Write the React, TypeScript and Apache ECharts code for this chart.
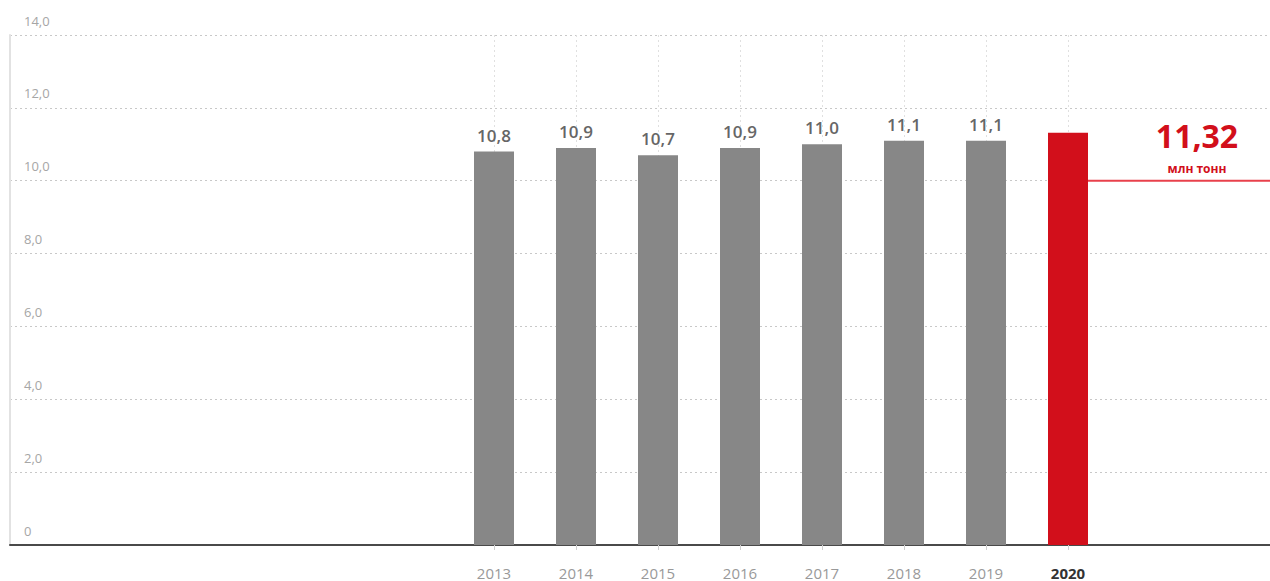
import React, { useEffect, useRef } from "react";
import * as echarts from "echarts";

const years = ["2013", "2014", "2015", "2016", "2017", "2018", "2019", "2020"];
const values = [10.8, 10.9, 10.7, 10.9, 11.0, 11.1, 11.1, 11.32];
const highlightText = "11,32";
const unitText = "млн тонн";
const refLineValue = 10;
const yMin = 0;
const yMax = 14;
const yStep = 2;

const GRAY = "#878787";
const RED = "#d20f1b";
const FONT = "'Open Sans', 'Noto Sans', sans-serif";

const fmt = (v: number) => (v === 0 ? "0" : v.toFixed(1).replace(".", ","));

export default function App() {
  const ref = useRef<HTMLDivElement>(null);

  useEffect(() => {
    if (!ref.current) return;
    const chart = echarts.init(ref.current, undefined, { renderer: "svg" });
    const last = years.length - 1;
    chart.setOption({
      animation: false,
      textStyle: { fontFamily: FONT },
      grid: [
        { left: 10, right: 0, top: 35, height: 510 },
        { left: 494, right: 202, top: 35, height: 510 },
      ],
      xAxis: [
        {
          gridIndex: 0,
          type: "category",
          data: [""],
          axisLine: { show: true, lineStyle: { color: "#4a4a4a", width: 2 } },
          axisTick: { show: false },
          axisLabel: { show: false },
          splitLine: { show: false },
        },
        {
          gridIndex: 1,
          type: "category",
          boundaryGap: false,
          data: years,
          axisLine: { show: false },
          axisTick: { show: true, length: 5, lineStyle: { color: "#d0d0d0" } },
          axisLabel: {
            margin: 20,
            color: "#999999",
            fontSize: 15,
            fontFamily: FONT,
            formatter: (v: string, i: number) => (i === last ? `{b|${v}}` : v),
            rich: {
              b: { fontWeight: "bold", color: "#333333", fontSize: 15, fontFamily: FONT },
            },
          },
          splitLine: {
            show: true,
            lineStyle: { type: [2, 3], color: "#e0e0e0", width: 1 },
          },
        },
      ],
      yAxis: [
        {
          gridIndex: 0,
          type: "value",
          min: yMin,
          max: yMax,
          interval: yStep,
          axisLine: { show: true, lineStyle: { color: "#e2e2e2", width: 2 } },
          axisTick: { show: false },
          splitLine: { show: true, lineStyle: { type: [2, 3], color: "#c8c8c8", width: 1 } },
          axisLabel: {
            inside: true,
            margin: 14,
            color: "#a6a6a6",
            fontSize: 13,
            fontFamily: FONT,
            verticalAlign: "bottom",
            padding: [0, 0, 8, 0],
            formatter: (v: number) => fmt(v),
          },
        },
        {
          gridIndex: 1,
          type: "value",
          min: yMin,
          max: yMax,
          interval: yStep,
          show: false,
          splitLine: { show: false },
        },
      ],
      series: [
        {
          type: "bar",
          xAxisIndex: 1,
          yAxisIndex: 1,
          barWidth: 40,
          clip: false,
          z: 3,
          data: values.map((v, i) => ({
            value: v,
            itemStyle: { color: i === last ? RED : GRAY },
            label: { show: i !== last },
          })),
          label: {
            show: true,
            position: "top",
            distance: 8,
            color: "#666666",
            fontSize: 17,
            fontWeight: 600,
            fontFamily: FONT,
            formatter: (p: any) => fmt(p.value),
          },
        },
      ],
    });

    const p = chart.convertToPixel({ xAxisIndex: 1, yAxisIndex: 1 }, [years[last], refLineValue]) as number[];
    const cx = p[0] + 129;
    chart.setOption({
      graphic: [
        {
          type: "line",
          shape: { x1: p[0] + 20, y1: p[1], x2: 1270, y2: p[1] },
          style: { stroke: "#e8414b", lineWidth: 2 },
          z: 10,
        },
        {
          type: "text",
          x: cx,
          y: p[1] - 45,
          style: {
            text: highlightText,
            fill: RED,
            font: `bold 32px ${FONT}`,
            textAlign: "center",
            textVerticalAlign: "middle",
          },
          z: 10,
        },
        {
          type: "text",
          x: cx,
          y: p[1] - 12,
          style: {
            text: unitText,
            fill: RED,
            font: `bold 12px ${FONT}`,
            textAlign: "center",
            textVerticalAlign: "middle",
          },
          z: 10,
        },
      ],
    });

    return () => chart.dispose();
  }, []);

  return (
    <div
      ref={ref}
      style={{ position: "fixed", left: 0, top: 0, width: 1270, height: 581, background: "#ffffff" }}
    />
  );
}
